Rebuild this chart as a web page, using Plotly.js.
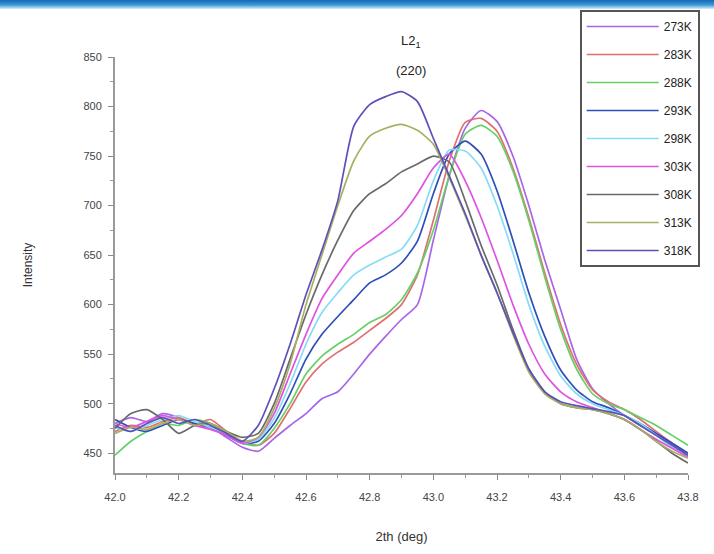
<!DOCTYPE html>
<html>
<head>
<meta charset="utf-8">
<script src="https://cdn.plot.ly/plotly-3.0.1.min.js"></script>
<style>
  html, body { margin: 0; padding: 0; background: #fff; overflow: hidden; }
  #band { position: absolute; left: 0; top: 0; width: 714px; height: 9px;
          background: linear-gradient(to bottom, #1668b0 0%, #3a9ad8 55%, #d8eefa 100%); z-index: 5; }
  #chart { width: 714px; height: 554px; }
</style>
</head>
<body>
<div id="band"></div>
<div id="chart"></div>
<script>
// Diffraction angle grid (deg), shared by all temperature scans
const twoTheta = [42.00, 42.05, 42.10, 42.15, 42.20, 42.25, 42.30, 42.35, 42.40, 42.45,
                  42.50, 42.55, 42.60, 42.65, 42.70, 42.75, 42.80, 42.85, 42.90, 42.95,
                  43.00, 43.05, 43.10, 43.15, 43.20, 43.25, 43.30, 43.35, 43.40, 43.45,
                  43.50, 43.55, 43.60, 43.65, 43.70, 43.75, 43.80];

const temps = ["273K", "283K", "288K", "293K", "298K", "303K", "308K", "313K", "318K"];

const i273 = [480, 486, 482, 490, 486, 478, 476, 466, 456, 452, 465, 478, 490, 505, 512, 530, 550, 568, 585, 600,
              665, 730, 778, 796, 785, 750, 700, 645, 595, 545, 515, 500, 488, 478, 470, 460, 450];
const i283 = [472, 478, 476, 482, 486, 480, 484, 472, 462, 458, 470, 495, 522, 540, 552, 562, 574, 586, 600, 630,
              685, 745, 784, 788, 775, 738, 688, 632, 580, 540, 514, 502, 494, 484, 472, 460, 448];
const i288 = [448, 462, 472, 480, 478, 484, 480, 470, 460, 458, 475, 500, 530, 548, 560, 570, 582, 590, 605, 632,
              675, 730, 772, 781, 770, 735, 685, 628, 575, 535, 510, 500, 494, 486, 478, 468, 458];
const i293 = [484, 476, 472, 478, 484, 480, 476, 468, 460, 462, 480, 510, 545, 570, 588, 605, 622, 630, 642, 664,
              712, 752, 765, 752, 715, 665, 612, 568, 534, 514, 502, 496, 488, 480, 470, 460, 450];
const i298 = [476, 472, 478, 484, 488, 482, 476, 470, 460, 464, 485, 520, 560, 592, 612, 630, 640, 648, 656, 680,
              725, 756, 755, 738, 700, 652, 600, 558, 528, 510, 500, 494, 488, 480, 468, 456, 448];
const i303 = [480, 476, 482, 488, 484, 478, 474, 468, 460, 466, 490, 530, 570, 606, 630, 652, 664, 676, 690, 712,
              738, 752, 725, 688, 645, 600, 560, 530, 512, 502, 496, 490, 484, 474, 464, 455, 446];
const i308 = [475, 490, 494, 484, 470, 478, 480, 472, 466, 470, 500, 545, 590, 630, 665, 695, 712, 722, 734, 742,
              750, 744, 705, 660, 620, 575, 535, 512, 500, 496, 494, 490, 484, 474, 462, 450, 440];
const i313 = [470, 476, 474, 480, 484, 478, 480, 472, 462, 466, 495, 540, 600, 650, 700, 745, 770, 778, 782, 776,
              762, 728, 690, 650, 612, 570, 532, 510, 500, 496, 494, 490, 484, 474, 462, 452, 445];
const i318 = [478, 472, 480, 486, 480, 484, 478, 470, 462, 478, 515, 560, 610, 655, 705, 780, 802, 810, 815, 805,
              768, 730, 692, 650, 612, 572, 535, 512, 502, 498, 495, 492, 488, 478, 468, 458, 448];

const xTicks = [42.0, 42.2, 42.4, 42.6, 42.8, 43.0, 43.2, 43.4, 43.6, 43.8];
const yTicks = [450, 500, 550, 600, 650, 700, 750, 800, 850];

const series = [i273, i283, i288, i293, i298, i303, i308, i313, i318];
const colors = ["#a866e6", "#e07070", "#66d066", "#2f4fb8", "#86dcf6",
                "#e052e0", "#6a6a6a", "#a8b060", "#5a52b8"];

const traces = series.map((vals, k) => ({
  x: twoTheta,
  y: vals,
  name: temps[k],
  legendgroup: temps[k],
  type: "scatter",
  mode: "lines",
  line: { color: colors[k], width: 1.7, shape: "spline", smoothing: 0.6 }
}));

const layout = {
  width: 714,
  height: 554,
  paper_bgcolor: "#fff",
  plot_bgcolor: "#fff",
  margin: { l: 115, r: 26, t: 57, b: 81, autoexpand: false },
  font: { family: "Liberation Sans, Arial, sans-serif", color: "#333", size: 11 },
  showlegend: true,
  legend: {
    x: 0.811, y: 1.113, xanchor: "left", yanchor: "top",
    bgcolor: "#fff", bordercolor: "#555", borderwidth: 2,
    font: { size: 12, color: "#222" },
    traceorder: "grouped", tracegroupgap: 9, itemwidth: 72
  },
  xaxis: {
    range: [42.0, 43.8],
    tickvals: xTicks,
    ticktext: xTicks.map(v => v.toFixed(1)),
    showgrid: false, zeroline: false,
    showline: true, linecolor: "#999", linewidth: 2,
    ticks: "outside", ticklen: 5, tickcolor: "#888", tickwidth: 1,
    ticklabelstandoff: 8,
    minor: { dtick: 0.1, ticks: "outside", ticklen: 3, tickcolor: "#999" },
    tickfont: { size: 11, color: "#444" },
    title: { text: "2th (deg)", font: { size: 13, color: "#333" }, standoff: 30 }
  },
  yaxis: {
    range: [430, 850],
    tickvals: yTicks,
    showgrid: false, zeroline: false,
    showline: true, linecolor: "#999", linewidth: 2,
    ticks: "outside", ticklen: 5, tickcolor: "#888", tickwidth: 1,
    ticklabelstandoff: 4,
    minor: { dtick: 25, ticks: "outside", ticklen: 3, tickcolor: "#999" },
    tickfont: { size: 11, color: "#444" },
    title: { text: "Intensity", font: { size: 12, color: "#333" }, standoff: 48 }
  },
  annotations: [
    { x: 42.93, y: 1.012, xref: "x", yref: "paper", text: "L2<sub>1</sub>", showarrow: false,
      font: { size: 13, color: "#222" }, yanchor: "bottom" },
    { x: 42.93, y: 0.945, xref: "x", yref: "paper", text: "(220)", showarrow: false,
      font: { size: 13, color: "#222" }, yanchor: "bottom" }
  ]
};

Plotly.newPlot("chart", traces, layout, { displayModeBar: false, staticPlot: true });
</script>
</body>
</html>
